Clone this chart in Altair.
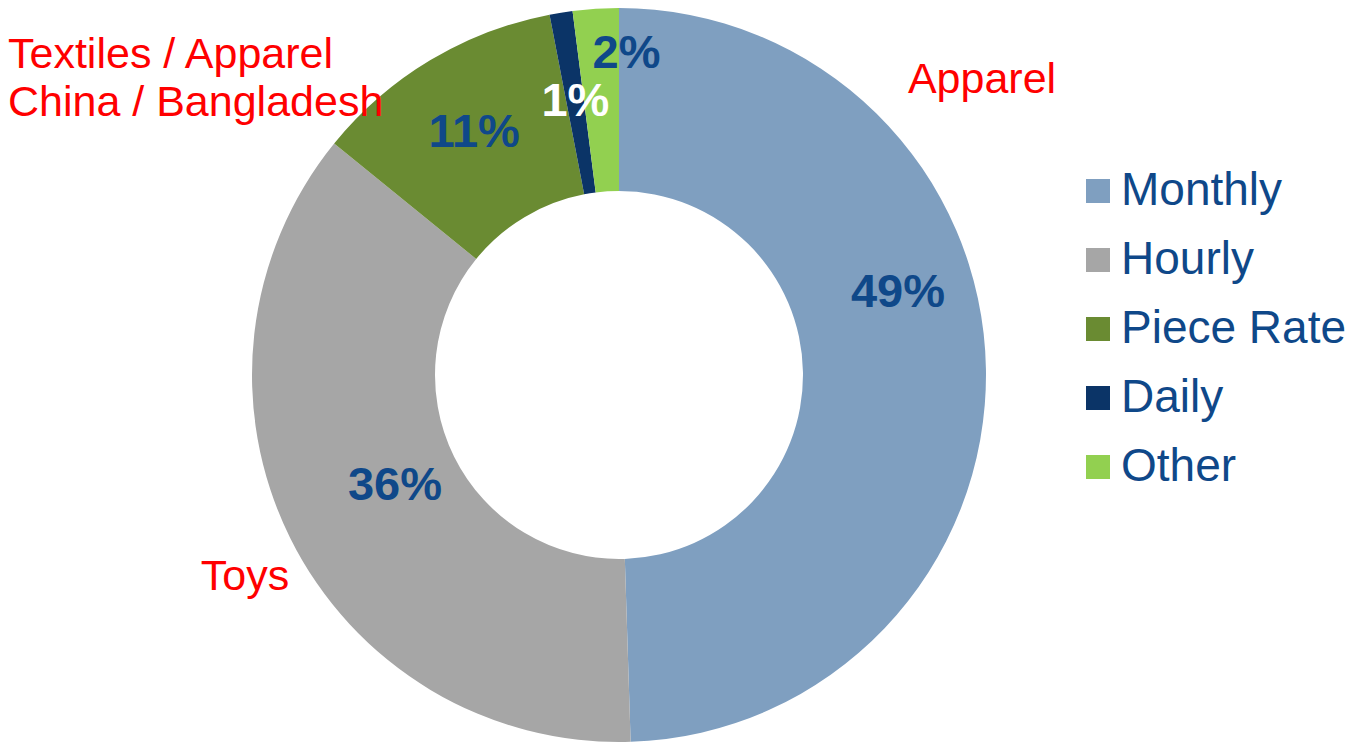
import altair as alt
import pandas as pd

categories = ["Monthly", "Hourly", "Piece Rate", "Daily", "Other"]
values = [49, 36, 11, 1, 2]
labels = ["49%", "36%", "11%", "1%", "2%"]
colors = ["#7F9FC0", "#A6A6A6", "#6A8B32", "#0B3467", "#92D050"]
annotations = ["Apparel", "Toys", "Textiles / Apparel\nChina / Bangladesh"]

df = pd.DataFrame({
    "category": categories,
    "value": values,
    "label": labels,
    "order": list(range(len(categories))),
})

CX, CY = 611, 367
R_OUT, R_IN = 367, 184
FONT = "Liberation Sans"
TEXT_BLUE = "#0F4889"

base = alt.Chart(df)

arcs = base.mark_arc(outerRadius=R_OUT, innerRadius=R_IN, stroke=None).encode(
    theta=alt.Theta("value:Q", stack=True),
    order=alt.Order("order:Q"),
    x=alt.value(CX),
    y=alt.value(CY),
    color=alt.Color(
        "category:N",
        scale=alt.Scale(domain=categories, range=colors),
        sort=categories,
        legend=alt.Legend(
            title=None,
            orient="none",
            legendX=1067,
            legendY=160,
            symbolType="square",
            symbolSize=576,
            symbolStrokeWidth=0,
            labelFont=FONT,
            labelFontSize=46,
            labelColor=TEXT_BLUE,
            labelOffset=0,
            rowPadding=23,
            labelLimit=400,
        ),
    ),
)

# label placement per category (radius, dx, dy, colour)
placement = {
    "Monthly": (276, 3, -78, TEXT_BLUE),
    "Hourly": (250, 0, 0, TEXT_BLUE),
    "Piece Rate": (282, 0, 0, TEXT_BLUE),
    "Daily": (276, 0, 0, "white"),
    "Other": (322, 28, 0, TEXT_BLUE),
}

layers = [arcs]
for cat in categories:
    r, dx, dy, col = placement[cat]
    layers.append(
        base.mark_text(
            radius=r, dx=dx, dy=dy, font=FONT, fontSize=47, fontWeight="bold",
            color=col, align="center", baseline="middle",
        ).encode(
            theta=alt.Theta("value:Q", stack=True),
            order=alt.Order("order:Q"),
            x=alt.value(CX),
            y=alt.value(CY),
            text=alt.condition(alt.datum.category == cat, "label:N", alt.value("")),
        )
    )

ann_df = pd.DataFrame({"text": annotations})
ann_pos = [(974, 72, "center"), (237, 569, "center"), (0, 47, "left")]
for t, (ax, ay, al) in zip(annotations, ann_pos):
    layers.append(
        alt.Chart(ann_df).transform_filter(alt.datum.text == t).mark_text(
            font=FONT, fontSize=43, color="#FF0000", align=al, baseline="middle",
            lineBreak="\n", lineHeight=48,
        ).encode(
            x=alt.value(ax),
            y=alt.value(ay),
            text="text:N",
        )
    )

chart = alt.layer(*layers).properties(
    width=1343,
    height=737,
    autosize=alt.AutoSizeParams(type="none"),
    padding=0,
).configure_view(stroke=None)

chart.save("out.html", embed_options={"renderer": "svg", "actions": False})
